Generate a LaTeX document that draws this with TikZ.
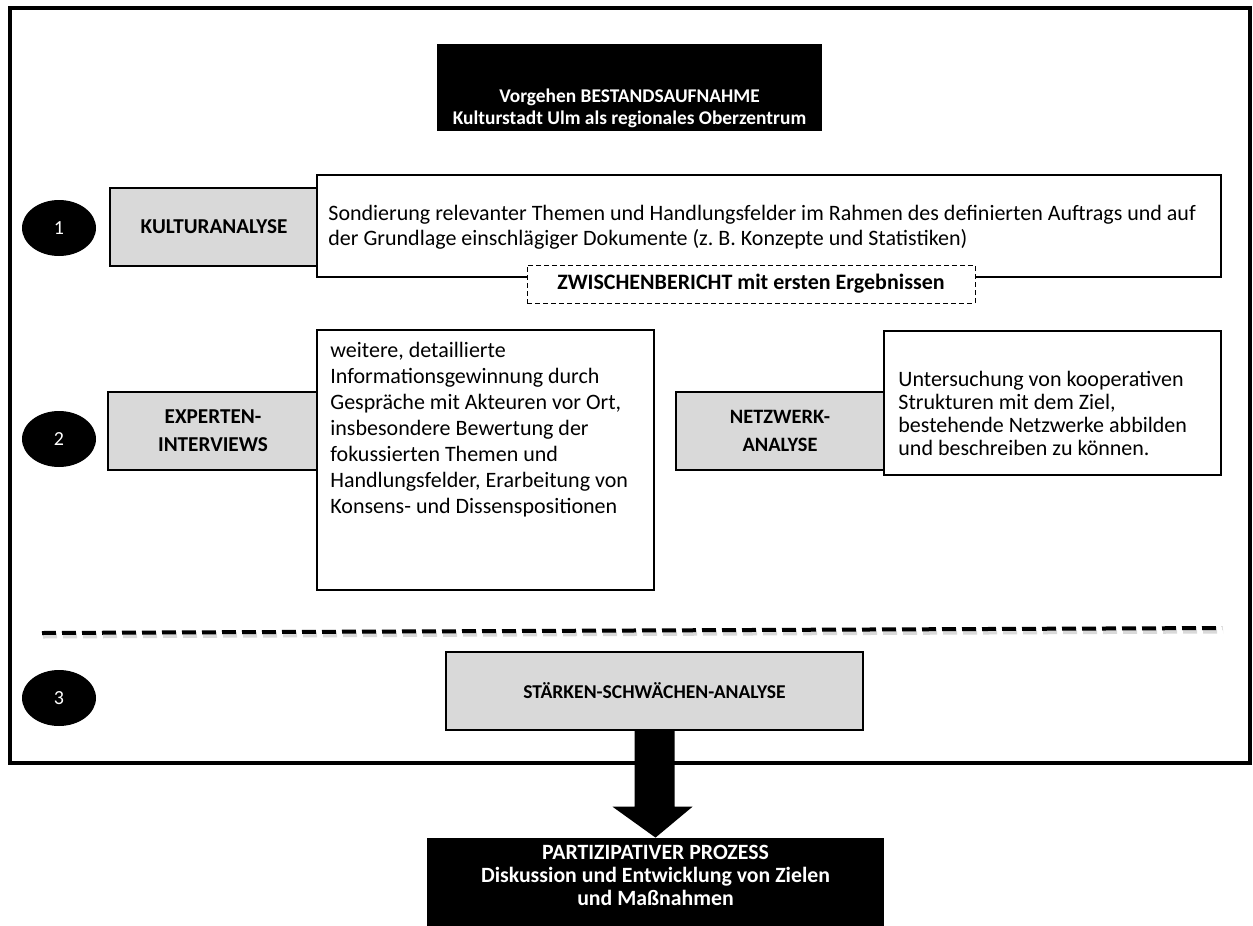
\documentclass[tikz,border=0pt]{standalone}
\usepackage{fontspec}
\setmainfont{Carlito}
\usetikzlibrary{calc,shapes.geometric}
\definecolor{boxgray}{HTML}{D9D9D9}
\tikzset{
  px/.style={x=0.5pt,y=-0.5pt},
  frame/.style={draw=black,line width=1.6pt,fill=white,inner sep=0pt},
  blackbox/.style={fill=black,inner sep=0pt},
  whitetext/.style={text=white,align=center,inner sep=0pt},
  graybox/.style={draw=black,line width=0.7pt,fill=boxgray,align=center,inner sep=0pt},
  textbox/.style={draw=black,line width=0.7pt,fill=white,inner sep=0pt},
  numell/.style={ellipse,fill=black,text=white,inner sep=0pt,minimum width=37pt,minimum height=28pt,font=\fontsize{10}{12}\selectfont},
  bodytext/.style={align=left,inner sep=0pt,anchor=west},
  dashbox/.style={draw=black,line width=0.5pt,dash pattern=on 2.5pt off 1.5pt,fill=white,inner sep=0pt},
}
\begin{document}
\begin{tikzpicture}[px,font=\fontsize{11}{12.5}\selectfont]
\useasboundingbox (0,0) rectangle (1253,926);
% outer frame
\node[frame,minimum width=620pt,minimum height=377.5pt] (frame) at (630,385.5) {};
% title
\node[blackbox,minimum width=192.5pt,minimum height=43.5pt] (title) at (629.5,87.5) {};
\node[whitetext,font=\fontsize{9.7}{11}\selectfont\bfseries] (titletext) at (629.5,108) {Vorgehen BESTANDSAUFNAHME\\Kulturstadt Ulm als regionales Oberzentrum};
% row 1
\node[numell] (e1) at (59,228) {1};
\node[graybox,minimum width=104pt,minimum height=39pt,font=\fontsize{10.6}{12}\selectfont\bfseries] (k1) at (214,227) {KULTURANALYSE};
\node[textbox,minimum width=452pt,minimum height=51pt] (t1) at (769,226) {};
\node[bodytext] (t1text) at (328,227.5) {Sondierung relevanter Themen und Handlungsfelder im Rahmen des definierten Auftrags und auf\\der Grundlage einschl\"agiger Dokumente (z.\ B. Konzepte und Statistiken)};
\node[dashbox,minimum width=224pt,minimum height=19pt,font=\fontsize{11}{12}\selectfont\bfseries] (zb) at (751,284) {ZWISCHENBERICHT mit ersten Ergebnissen};
% row 2
\node[numell] (e2) at (59,439) {2};
\node[graybox,minimum width=105pt,minimum height=39pt,font=\fontsize{10.6}{14}\selectfont\bfseries] (k2) at (213,431) {EXPERTEN-\\INTERVIEWS};
\node[textbox,minimum width=168.5pt,minimum height=130pt] (t2) at (485.5,460) {};
\node[bodytext,font=\fontsize{11}{13}\selectfont] (t2text) at (330,430) {weitere, detaillierte\\Informationsgewinnung durch\\Gespr\"ache mit Akteuren vor Ort,\\insbesondere Bewertung der\\fokussierten Themen und\\Handlungsfelder, Erarbeitung von\\Konsens- und Dissenspositionen};
\node[graybox,minimum width=104pt,minimum height=39pt,font=\fontsize{10.2}{14}\selectfont\bfseries] (k3) at (780,431) {NETZWERK-\\ANALYSE};
\node[textbox,minimum width=168.5pt,minimum height=72pt] (t3) at (1052.5,403) {};
\node[bodytext,font=\fontsize{11}{11.5}\selectfont] (t3text) at (898,413.5) {Untersuchung von kooperativen\\Strukturen mit dem Ziel,\\bestehende Netzwerke abbilden\\und beschreiben zu k\"onnen.};
% dashed separator
\coordinate (dl) at (42,633);
\coordinate (dr) at (1222,628);
\draw[gray!30,line width=2pt,dash pattern=on 7pt off 3pt] ($(dl)+(1,3.5)$) -- ($(dr)+(1,3.5)$);
\draw[black,line width=2pt,dash pattern=on 7pt off 3pt] (dl) -- (dr);
% row 3
\node[numell] (e3) at (59,698) {3};
\node[graybox,minimum width=208.5pt,minimum height=39pt,font=\fontsize{9.8}{12}\selectfont\bfseries] (ssa) at (654.5,691) {ST\"ARKEN-SCHW\"ACHEN-ANALYSE};
% bottom box
\node[blackbox,minimum width=228.5pt,minimum height=44pt] (pp) at (655.5,882) {};
\node[whitetext,font=\fontsize{10.9}{11.3}\selectfont\bfseries] (pptext) at (655.5,875.5) {PARTIZIPATIVER PROZESS\\Diskussion und Entwicklung von Zielen\\und Ma\ss nahmen};
% block arrow
\fill[black] ($(ssa.south)+(-20,0)$) -- ($(ssa.south)+(20,0)$) -- ($(ssa.south)+(20,76)$) -- ($(ssa.south)+(38,76)$) -- (pp.north) -- ($(ssa.south)+(-42,76)$) -- ($(ssa.south)+(-20,76)$) -- cycle;
\end{tikzpicture}
\end{document}
